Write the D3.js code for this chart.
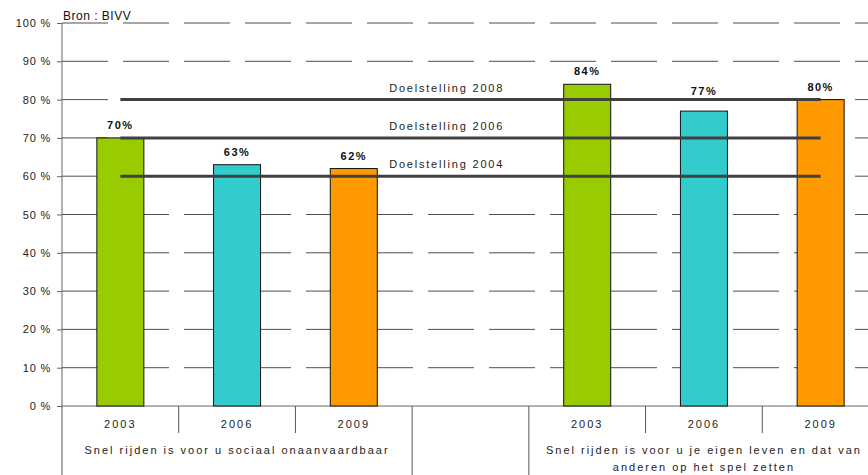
<!DOCTYPE html>
<html>
<head>
<meta charset="utf-8">
<script src="https://cdn.jsdelivr.net/npm/d3@7"></script>
<style>
  body { margin: 0; background: #fff; }
  svg { display: block; font-family: "Liberation Sans", Arial, sans-serif; }
</style>
</head>
<body>
<svg id="chart" width="868" height="475"></svg>
<script>
// --- Data --------------------------------------------------------------------
const years = ["2003", "2006", "2009"];
const yearColors = ["#99cc00", "#33cccc", "#ff9900"];
const groupLabels = [
  ["Snel rijden is voor u sociaal onaanvaardbaar"],
  ["Snel rijden is voor u je eigen leven en dat van", "anderen op het spel zetten"]
];
const socialValues = [70, 63, 62];
const riskValues = [84, 77, 80];
const targetLabels = ["Doelstelling 2004", "Doelstelling 2006", "Doelstelling 2008"];
const targetValues = [60, 70, 80];
const yTicks = [0, 10, 20, 30, 40, 50, 60, 70, 80, 90, 100];

// slots: group 1 years, an empty slot, group 2 years
const slots = [
  ...years.map((y, i) => ({ key: "a" + y, year: y, value: socialValues[i], color: yearColors[i] })),
  { key: "gap", year: null },
  ...years.map((y, i) => ({ key: "b" + y, year: y, value: riskValues[i], color: yearColors[i] }))
];

// --- Layout ------------------------------------------------------------------
const svg = d3.select("#chart");
const plotL = 62, plotR = 879, plotT = 23, plotB = 406;

const x = d3.scaleBand().domain(slots.map(d => d.key)).range([plotL, plotR]).padding(0);
const y = d3.scaleLinear().domain([0, 100]).range([plotB, plotT]);
const barW = 47;

// gridlines (long dashes)
svg.append("g").selectAll("line")
  .data(yTicks.filter(t => t > 0)).enter()
  .append("line")
  .attr("x1", plotL).attr("x2", 868)
  .attr("y1", d => y(d)).attr("y2", d => y(d))
  .attr("stroke", "#222").attr("stroke-width", 0.8)
  .attr("stroke-dasharray", "46 15");

// y axis
const yAxis = svg.append("g").attr("transform", `translate(${plotL},0)`)
  .call(d3.axisLeft(y).tickValues(yTicks).tickSize(5).tickFormat(d => d + " %"));
yAxis.select(".domain").attr("stroke", "#666").attr("d", `M0,${plotT}V${plotB}`);
yAxis.selectAll(".tick line").attr("stroke", "#666");
yAxis.selectAll(".tick text")
  .attr("x", -11)
  .attr("font-family", "Liberation Sans, Arial, sans-serif")
  .attr("font-size", 11).attr("fill", "#222")
  .attr("letter-spacing", 0.8);

// x axis baseline
svg.append("line")
  .attr("x1", plotL).attr("x2", 868).attr("y1", plotB).attr("y2", plotB)
  .attr("stroke", "#666");

// category separators: short within a group, long between groups
const bounds = d3.range(slots.length + 1).map(i => plotL + i * x.step());
const longIdx = [0, 3, 4, 7];
svg.append("g").selectAll("line")
  .data(bounds).enter()
  .append("line")
  .attr("x1", d => d).attr("x2", d => d)
  .attr("y1", plotB)
  .attr("y2", (d, i) => longIdx.includes(i) ? 475 : 433)
  .attr("stroke", "#555");

// year labels
svg.append("g").selectAll("text")
  .data(slots.filter(d => d.year)).enter()
  .append("text")
  .attr("x", d => x(d.key) + x.bandwidth() / 2)
  .attr("y", 428)
  .attr("text-anchor", "middle")
  .attr("font-size", 11).attr("letter-spacing", 2).attr("fill", "#222")
  .text(d => d.year);

// group labels
const groupSpans = [[bounds[0], bounds[3]], [bounds[4], bounds[7]]];
groupLabels.forEach((lines, gi) => {
  const cx = (groupSpans[gi][0] + groupSpans[gi][1]) / 2;
  lines.forEach((txt, li) => {
    svg.append("text")
      .attr("x", cx).attr("y", 454 + li * 17)
      .attr("text-anchor", "middle")
      .attr("font-size", 11).attr("letter-spacing", 2).attr("fill", "#222")
      .text(txt);
  });
});

// bars
const bars = slots.filter(d => d.year);
svg.append("g").selectAll("rect")
  .data(bars).enter()
  .append("rect")
  .attr("x", d => x(d.key) + (x.bandwidth() - barW) / 2)
  .attr("y", d => y(d.value))
  .attr("width", barW)
  .attr("height", d => y(0) - y(d.value))
  .attr("fill", d => d.color)
  .attr("stroke", "#111").attr("stroke-width", 1);

// value labels, nudged above a target line when they would sit on it
function labelY(v) {
  let base = y(v) - 9;
  for (const t of targetValues) {
    const ly = y(t);
    if (ly < y(v) && ly > base - 10) base = Math.min(base, ly - 5);
  }
  return base;
}
svg.append("g").selectAll("text")
  .data(bars).enter()
  .append("text")
  .attr("x", d => x(d.key) + x.bandwidth() / 2)
  .attr("y", d => labelY(d.value))
  .attr("text-anchor", "middle")
  .attr("font-size", 11).attr("font-weight", "bold").attr("letter-spacing", 1.5)
  .attr("fill", "#111")
  .text(d => d.value + "%");

// target lines
const x0 = x(slots[0].key) + x.bandwidth() / 2;
const x1 = x(slots[slots.length - 1].key) + x.bandwidth() / 2;
const tg = svg.append("g");
targetValues.forEach((v, i) => {
  tg.append("line")
    .attr("x1", x0).attr("x2", x1)
    .attr("y1", y(v)).attr("y2", y(v))
    .attr("stroke", "#404040").attr("stroke-width", 3);
  tg.append("text")
    .attr("x", x(slots[3].key) - 23)
    .attr("y", y(v) - 8)
    .attr("font-size", 11).attr("letter-spacing", 1.8).attr("fill", "#222")
    .text(targetLabels[i]);
});

// source
svg.append("text")
  .attr("x", 63).attr("y", 20)
  .attr("font-size", 12).attr("letter-spacing", 0.5).attr("fill", "#111")
  .text("Bron : BIVV");
</script>
</body>
</html>
